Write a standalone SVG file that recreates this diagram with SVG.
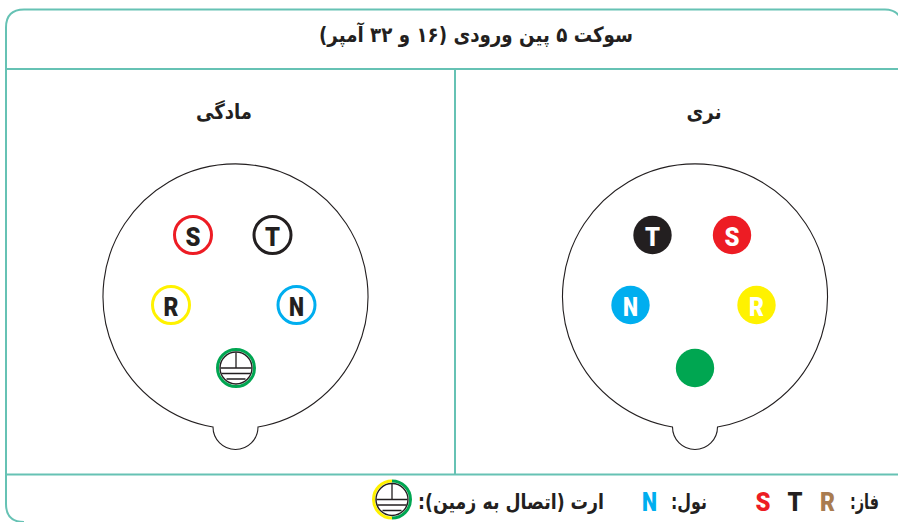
<svg xmlns="http://www.w3.org/2000/svg" width="898" height="522" viewBox="0 0 898 522">
<style>
.frame{fill:none;stroke:#66c2b4;stroke-width:2}
.body{fill:#fff;stroke:#231f20;stroke-width:1.1}
.fa{font-family:"DejaVu Sans",sans-serif;font-weight:700;fill:#231f20;text-anchor:middle;direction:rtl;font-size:21px}
.pin{font-family:"Roboto","Liberation Sans",sans-serif;font-weight:900;font-size:26px;text-anchor:middle}
.ring{fill:#fff;stroke-width:3}
.thin{fill:none;stroke:#231f20;stroke-width:1.3}
</style>
<defs>
<g id="earth">
<circle r="16" fill="#fff" stroke="#231f20" stroke-width="1.4"/>
<path class="thin" d="M0-15.500V0M-15.500 0H15.500M-14.500 5.500H14.500M-9.500 11H9.500"/>
</g>
</defs>
<rect width="898" height="522" fill="#fff"/>
<g id="frame">
<path class="frame" d="M900 17Q895 9.500 885 9.500H24Q6 9.500 6 27.500V504Q6 522 24 522"/>
<path class="frame" d="M6 69H898M6 474.500H898M455 69V474.500"/>
</g>
<g id="title"><text class="fa" x="476" y="42" textLength="314" lengthAdjust="spacingAndGlyphs">سوکت ۵ پین ورودی (۱۶ و ۳۲ آمپر)</text></g>
<g id="female">
<text class="fa" x="224" y="119" textLength="56" lengthAdjust="spacingAndGlyphs">مادگی</text>
<path class="body" d="M213 427A132.500 132.500 0 1 1 258 427A22.500 22.500 0 0 1 213 427Z"/>
<g id="female-s"><circle class="ring" cx="193" cy="235" r="18.500" stroke="#ed1c24"/><text class="pin" x="193" y="245.500" fill="#231f20" textLength="15" lengthAdjust="spacingAndGlyphs">S</text></g>
<g id="female-t"><circle class="ring" cx="272.500" cy="235" r="18.500" stroke="#231f20"/><text class="pin" x="272.500" y="245.500" fill="#231f20" textLength="15" lengthAdjust="spacingAndGlyphs">T</text></g>
<g id="female-r"><circle class="ring" cx="171" cy="305" r="18.500" stroke="#fff200"/><text class="pin" x="171" y="315.500" fill="#231f20" textLength="15" lengthAdjust="spacingAndGlyphs">R</text></g>
<g id="female-n"><circle class="ring" cx="296.500" cy="305" r="18.500" stroke="#00aeef"/><text class="pin" x="296.500" y="315.500" fill="#231f20" textLength="15" lengthAdjust="spacingAndGlyphs">N</text></g>
<g id="female-e"><circle class="ring" cx="236" cy="368" r="18.500" stroke="#00a651"/><use href="#earth" x="236" y="368"/></g>
</g>
<g id="male">
<text class="fa" x="704" y="119" textLength="35" lengthAdjust="spacingAndGlyphs">نری</text>
<path class="body" d="M672.500 427A132.500 132.500 0 1 1 717.500 427A22.500 22.500 0 0 1 672.500 427Z"/>
<g id="male-t"><circle cx="652.500" cy="235" r="19.200" fill="#231f20"/><text class="pin" x="652.500" y="245.500" fill="#fff" textLength="15" lengthAdjust="spacingAndGlyphs">T</text></g>
<g id="male-s"><circle cx="732" cy="235" r="19.200" fill="#ed1c24"/><text class="pin" x="732" y="245.500" fill="#fff" textLength="15" lengthAdjust="spacingAndGlyphs">S</text></g>
<g id="male-n"><circle cx="630.500" cy="305" r="19.200" fill="#00aeef"/><text class="pin" x="630.500" y="315.500" fill="#fff" textLength="15" lengthAdjust="spacingAndGlyphs">N</text></g>
<g id="male-r"><circle cx="756.500" cy="305" r="19.200" fill="#fff200"/><text class="pin" x="756.500" y="315.500" fill="#fff" textLength="15" lengthAdjust="spacingAndGlyphs">R</text></g>
<g id="male-e"><circle cx="695" cy="368" r="19.200" fill="#00a651"/></g>
</g>
<g id="legend">
<text class="fa" x="864.500" y="509" textLength="29" lengthAdjust="spacingAndGlyphs">فاز:</text>
<text class="pin" x="827.500" y="511" fill="#a97c50" textLength="15" lengthAdjust="spacingAndGlyphs">R</text>
<text class="pin" x="795" y="511" fill="#231f20" textLength="15" lengthAdjust="spacingAndGlyphs">T</text>
<text class="pin" x="763" y="511" fill="#ed1c24" textLength="15" lengthAdjust="spacingAndGlyphs">S</text>
<text class="fa" x="689" y="509" textLength="36" lengthAdjust="spacingAndGlyphs">نول:</text>
<text class="pin" x="649.500" y="511" fill="#00aeef" textLength="15" lengthAdjust="spacingAndGlyphs">N</text>
<text class="fa" x="511" y="509" textLength="186" lengthAdjust="spacingAndGlyphs">ارت (اتصال به زمین):</text>
<g id="legend-earth">
<path d="M392 481A18.500 18.500 0 0 0 392 518" fill="none" stroke="#fff200" stroke-width="3"/>
<path d="M392 481A18.500 18.500 0 0 1 392 518" fill="none" stroke="#00a651" stroke-width="3"/>
<use href="#earth" x="392" y="499.500"/>
</g>
</g>
</svg>
